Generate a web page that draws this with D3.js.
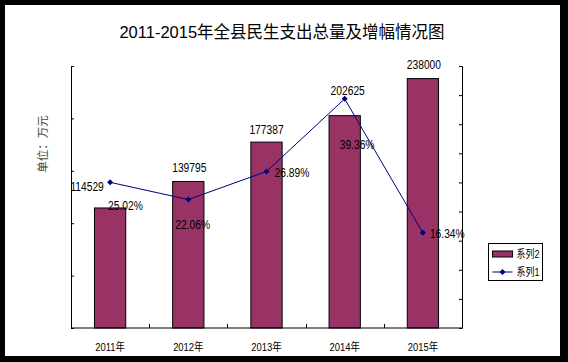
<!DOCTYPE html>
<html>
<head>
<meta charset="utf-8">
<script src="https://cdn.jsdelivr.net/npm/d3@7"></script>
<style>
  body { margin: 0; background: #000; }
  svg { display: block; }
  .narrow { font-family: "Liberation Sans", Arial, "Noto Sans CJK SC", sans-serif; }
</style>
</head>
<body>
<div id="chart"></div>
<script>
/////////////////////
// Data
/////////////////////

var years = ["2011年", "2012年", "2013年", "2014年", "2015年"];
var totals = [114529, 139795, 177387, 202625, 238000];   // 系列2, 万元
var rates = [25.02, 22.06, 26.89, 39.36, 16.34];          // 系列1, %
var series = ["系列2", "系列1"];
var totalTicks = [0, 50000, 100000, 150000, 200000, 250000];
var rateTicks = [0, 5, 10, 15, 20, 25, 30, 35, 40, 45];

// hand-placed label nudges [dx, dy], as moved in the original
var totalNudge = [[-23, -16.5], [1, -9.5], [0, -8], [3, -20.5], [1, -9.5]];
var rateNudge = [[-2, 28], [-13, 29.5], [8, 6], [-5, 50.5], [7, 5]];

/////////////////////
// Setup
/////////////////////

var width = 568, height = 362;
var plotLeft = 71, plotRight = 462, plotTop = 66, plotBottom = 328;
var barColor = "#993366", lineColor = "#000080";
var squeeze = 0.82;   // narrow-font look

var svg = d3.select("#chart").append("svg")
    .attr("width", width)
    .attr("height", height);

// black frame, white chart area
svg.append("rect")
    .attr("width", width).attr("height", height)
    .attr("fill", "#000");
svg.append("rect")
    .attr("x", 5).attr("y", 5)
    .attr("width", 555).attr("height", 351)
    .attr("fill", "#fff");

var x = d3.scaleBand()
    .domain(years)
    .range([plotLeft, plotRight])
    .paddingInner(0.6)
    .paddingOuter(0.3);
var y = d3.scaleLinear().domain([0, 250000]).range([plotBottom, plotTop]);
var y2 = d3.scaleLinear().domain([0, 45]).range([plotBottom, plotTop]);

var cx = function(d, i) { return x(years[i]) + x.bandwidth() / 2; };
var place = function(px, py) { return "translate(" + px + "," + py + ") scale(" + squeeze + ",1)"; };

// Title
svg.append("text")
    .attr("x", 282)
    .attr("y", 38)
    .attr("text-anchor", "middle")
    .style("font-family", "'Liberation Sans', Arial, 'Noto Sans CJK SC', sans-serif")
    .style("font-size", "16.5px")
    .text("2011-2015年全县民生支出总量及增幅情况图");

// Unit label
svg.append("text")
    .attr("transform", "translate(47,144) rotate(-90)")
    .attr("text-anchor", "middle")
    .style("font-family", "'Noto Sans CJK SC', sans-serif")
    .style("font-size", "11.5px")
    .attr("fill", "#444")
    .text("单位：万元");

// Bars
svg.selectAll(".bar")
    .data(totals)
  .enter().append("rect")
    .attr("class", "bar")
    .attr("x", function(d, i) { return x(years[i]); })
    .attr("y", function(d) { return y(d); })
    .attr("width", x.bandwidth())
    .attr("height", function(d) { return plotBottom - y(d); })
    .attr("fill", barColor)
    .attr("stroke", "#000")
    .attr("stroke-width", 1);

// Axes
svg.append("g")
    .attr("transform", "translate(" + plotLeft + ",0)")
    .call(d3.axisRight(y).tickValues(totalTicks).tickFormat("").tickSize(3).tickSizeOuter(3));
svg.append("g")
    .attr("transform", "translate(" + plotRight + ",0)")
    .call(d3.axisLeft(y2).tickValues(rateTicks).tickFormat("").tickSize(3).tickSizeOuter(3));

svg.append("line")
    .attr("x1", plotLeft).attr("x2", plotRight)
    .attr("y1", plotBottom).attr("y2", plotBottom)
    .attr("stroke", "#000");

var step = x.step();
var boundary = function(d) { return Math.round(x(d) - step * x.paddingInner() / 2) + 0.5; };
svg.selectAll(".xtick")
    .data(years.slice(1))
  .enter().append("line")
    .attr("x1", boundary)
    .attr("x2", boundary)
    .attr("y1", plotBottom).attr("y2", plotBottom - 4)
    .attr("stroke", "#000");

svg.selectAll(".xlabel")
    .data(years)
  .enter().append("text")
    .attr("class", "narrow")
    .attr("transform", function(d, i) { return place(cx(d, i), 351); })
    .attr("text-anchor", "middle")
    .style("font-size", "11.5px")
    .text(function(d) { return d; });

// Line
var line = d3.line()
    .x(function(d, i) { return cx(d, i); })
    .y(function(d) { return y2(d); });

svg.append("path")
    .datum(rates)
    .attr("d", line)
    .attr("fill", "none")
    .attr("stroke", lineColor)
    .attr("stroke-width", 1);

var diamond = d3.symbol().type(d3.symbolSquare).size(18);
svg.selectAll(".marker")
    .data(rates)
  .enter().append("path")
    .attr("d", diamond)
    .attr("transform", function(d, i) { return "translate(" + cx(d, i) + "," + y2(d) + ") rotate(45)"; })
    .attr("fill", lineColor);

// Labels
svg.selectAll(".total-label")
    .data(totals)
  .enter().append("text")
    .attr("class", "narrow")
    .attr("transform", function(d, i) { return place(cx(d, i) + totalNudge[i][0], y(d) + totalNudge[i][1]); })
    .attr("text-anchor", "middle")
    .style("font-size", "12.5px")
    .text(function(d) { return d; });

svg.selectAll(".rate-label")
    .data(rates)
  .enter().append("text")
    .attr("class", "narrow")
    .attr("transform", function(d, i) { return place(cx(d, i) + rateNudge[i][0], y2(d) + rateNudge[i][1]); })
    .style("font-size", "12.5px")
    .text(function(d) { return d.toFixed(2) + "%"; });

// Legend
var legend = svg.append("g")
    .attr("transform", "translate(488.5,243.5)");
legend.append("rect")
    .attr("width", 54).attr("height", 37)
    .attr("fill", "#fff")
    .attr("stroke", "#000");

var item = legend.selectAll(".item")
    .data(series)
  .enter().append("g")
    .attr("transform", function(d, i) { return "translate(0," + (10.5 + i * 18) + ")"; });

item.filter(function(d, i) { return i === 0; }).append("rect")
    .attr("x", 4).attr("y", -3)
    .attr("width", 20).attr("height", 6)
    .attr("fill", barColor)
    .attr("stroke", "#000");

var lineItem = item.filter(function(d, i) { return i === 1; });
lineItem.append("line")
    .attr("x1", 4).attr("x2", 24)
    .attr("stroke", lineColor);
lineItem.append("path")
    .attr("d", diamond)
    .attr("transform", "translate(14,0) rotate(45)")
    .attr("fill", lineColor);

item.append("text")
    .attr("class", "narrow")
    .attr("transform", place(28, 0))
    .attr("dy", "0.35em")
    .style("font-size", "11px")
    .text(function(d) { return d; });
</script>
</body>
</html>
